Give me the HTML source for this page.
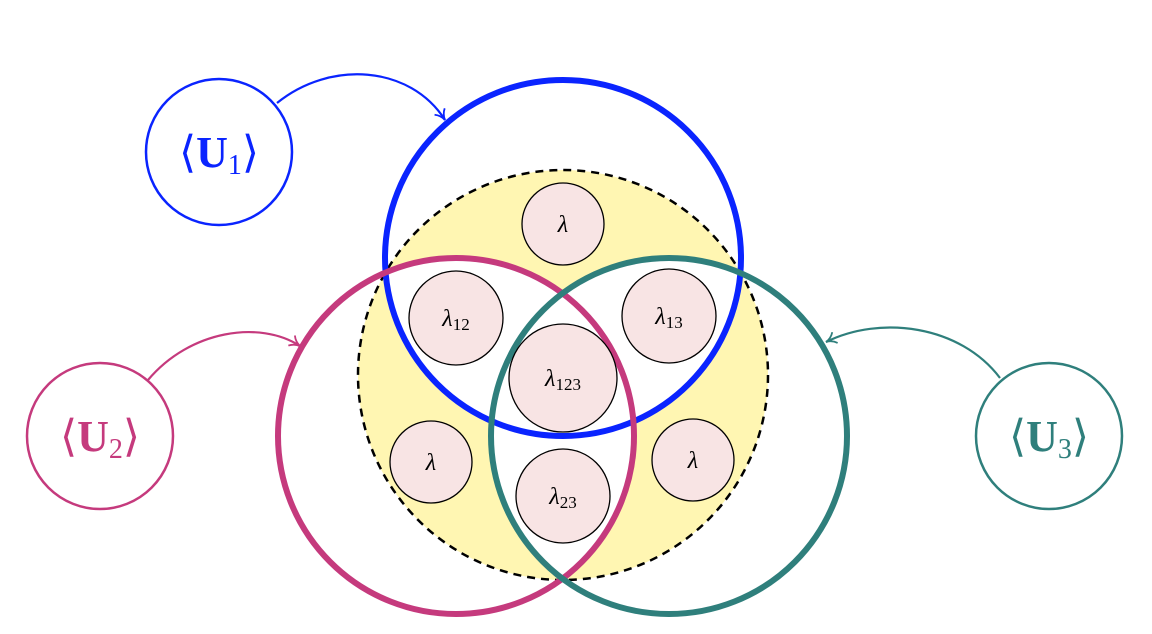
<!DOCTYPE html>
<html><head><meta charset="utf-8"><style>
html,body{margin:0;padding:0;background:#fff;}
svg{display:block;}
text{font-family:"Liberation Serif",serif;}
</style></head><body>
<svg width="1152" height="634" viewBox="0 0 1152 634" xmlns="http://www.w3.org/2000/svg">
<defs>
<clipPath id="cB"><circle cx="563" cy="258" r="178"/></clipPath>
<clipPath id="cM"><circle cx="456" cy="436" r="178"/></clipPath>
<marker id="ah" viewBox="0 0 14 14" refX="12" refY="7" markerWidth="14" markerHeight="14" orient="auto" markerUnits="userSpaceOnUse">
<path d="M2,1 Q6,6 12,7 Q6,8 2,13" fill="none" stroke="context-stroke" stroke-width="1.8"/>
</marker>
</defs>
<circle cx="563" cy="375" r="205" fill="#fff6b2"/>
<g clip-path="url(#cB)"><circle cx="456" cy="436" r="178" fill="#fff"/><circle cx="669" cy="436" r="178" fill="#fff"/></g>
<g clip-path="url(#cM)"><circle cx="669" cy="436" r="178" fill="#fff"/></g>
<circle cx="563" cy="375" r="205" fill="none" stroke="#000" stroke-width="2.5" stroke-dasharray="8,6"/>
<circle cx="563" cy="258" r="178" fill="none" stroke="#0a24ff" stroke-width="6"/>
<circle cx="456" cy="436" r="178" fill="none" stroke="#c53a7d" stroke-width="6"/>
<circle cx="669" cy="436" r="178" fill="none" stroke="#2f7f7c" stroke-width="6"/>
<g fill="#f8e4e4" stroke="#000" stroke-width="1.3">
<circle cx="563" cy="224" r="41"/>
<circle cx="456" cy="318" r="47"/>
<circle cx="669" cy="316" r="47"/>
<circle cx="563" cy="378" r="54"/>
<circle cx="431" cy="462" r="41"/>
<circle cx="563" cy="496" r="47"/>
<circle cx="693" cy="460" r="41"/>
</g>
<g font-size="24" text-anchor="middle" font-style="italic">
<text x="563" y="232">λ</text>
<text x="456" y="326">λ<tspan font-size="17" font-style="normal" dy="4">12</tspan></text>
<text x="669" y="324">λ<tspan font-size="17" font-style="normal" dy="4">13</tspan></text>
<text x="563" y="386">λ<tspan font-size="17" font-style="normal" dy="4">123</tspan></text>
<text x="431" y="470">λ</text>
<text x="563" y="504">λ<tspan font-size="17" font-style="normal" dy="4">23</tspan></text>
<text x="693" y="468">λ</text>
</g>
<circle cx="219" cy="152" r="73" fill="#fff" stroke="#0a24ff" stroke-width="2.5"/>
<circle cx="100" cy="436" r="73" fill="#fff" stroke="#c53a7d" stroke-width="2.5"/>
<circle cx="1049" cy="436" r="73" fill="#fff" stroke="#2f7f7c" stroke-width="2.5"/>
<g font-size="44" text-anchor="middle">
<text x="219" y="167" fill="#0a24ff">⟨<tspan font-weight="bold">U</tspan><tspan font-size="28" dy="7">1</tspan><tspan dy="-7">⟩</tspan></text>
<text x="100" y="451" fill="#c53a7d">⟨<tspan font-weight="bold">U</tspan><tspan font-size="28" dy="7">2</tspan><tspan dy="-7">⟩</tspan></text>
<text x="1049" y="451" fill="#2f7f7c">⟨<tspan font-weight="bold">U</tspan><tspan font-size="28" dy="7">3</tspan><tspan dy="-7">⟩</tspan></text>
</g>
<path d="M277,103 C330,60 410,65 445,120" fill="none" stroke="#0a24ff" stroke-width="2.2" marker-end="url(#ah)"/>
<path d="M148,380 C190,330 260,320 300,346" fill="none" stroke="#c53a7d" stroke-width="2.2" marker-end="url(#ah)"/>
<path d="M1000,378 C960,325 880,315 826,342" fill="none" stroke="#2f7f7c" stroke-width="2.2" marker-end="url(#ah)"/>
</svg>
</body></html>
